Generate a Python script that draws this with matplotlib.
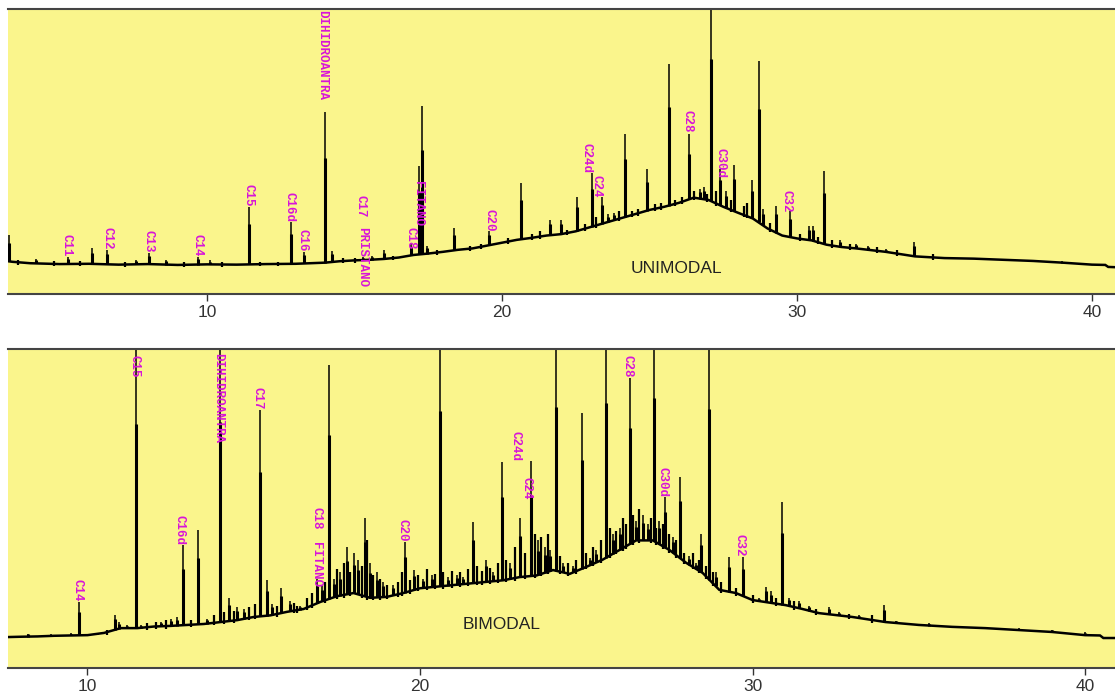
import numpy as np
import matplotlib.pyplot as plt

# ---- top trace (UNIMODAL) ----
# baseline (x in minutes, y in % of panel height)
uni_base_x = [3.25, 3.4, 4.0, 5.0, 6.0, 7.0, 8.0, 9.0, 10.0, 11.0, 12.0, 13.0, 14.0, 14.5,
              15.0, 15.5, 16.0, 16.5, 17.0, 17.5, 18.0, 18.5, 19.0, 19.5, 20.0, 20.5, 21.0,
              21.5, 22.0, 22.5, 23.0, 23.5, 24.0, 24.5, 25.0, 25.5, 26.0, 26.5, 27.0, 27.5,
              28.0, 28.5, 29.0, 29.5, 30.0, 30.5, 31.0, 31.5, 32.0, 33.0, 34.0, 35.0, 36.0,
              37.0, 38.0, 39.0, 40.0, 40.45, 40.55, 40.8]
uni_base_y = [11.5, 11.3, 10.8, 10.5, 10.6, 10.3, 10.5, 10.2, 10.4, 10.3, 10.5, 10.6, 11.0, 11.5,
              11.8, 12.0, 12.3, 12.8, 13.7, 14.2, 14.8, 15.5, 16.0, 17.0, 18.0, 19.0, 19.7,
              20.5, 21.0, 22.0, 23.5, 25.0, 26.5, 28.0, 29.5, 30.6, 32.0, 33.8, 33.0, 30.6,
              28.5, 26.5, 23.0, 20.5, 19.5, 18.8, 17.3, 16.5, 16.0, 14.8, 13.2, 12.6, 12.4,
              12.0, 11.6, 11.0, 10.3, 10.2, 9.5, 9.4]
uni_peak_x = [3.3, 4.2, 5.3, 6.1, 6.6, 7.6, 8.03, 8.6, 9.68, 10.1, 11.43, 12.85, 13.3, 14.0,
              14.25, 15.27, 15.6, 16.0, 16.9, 17.17, 17.29, 17.45, 18.38, 19.57, 20.64, 21.63,
              22.0, 22.55, 23.05, 23.38, 23.6, 23.8, 24.17, 24.92, 25.66, 26.34, 26.7, 26.85,
              27.07, 27.4, 27.6, 27.85, 28.47, 28.7, 28.85, 29.3, 29.76, 30.4, 30.55, 30.92,
              31.46, 32.0, 32.4, 33.0, 33.97, 35.5, 36.2, 37.0, 38.0, 39.0]
uni_peak_y = [20.8, 12.3, 13.0, 16.0, 15.5, 12.0, 14.4, 12.0, 13.0, 11.8, 30.6, 25.4, 14.8, 63.7,
              15.0, 13.0, 13.5, 15.5, 18.0, 45.0, 66.0, 17.0, 23.0, 22.0, 39.0, 26.0,
              26.0, 34.0, 42.5, 34.0, 28.0, 28.5, 56.0, 43.7, 80.6, 56.0, 37.0, 37.5,
              104.0, 43.7, 36.0, 45.4, 40.0, 81.8, 30.0, 30.8, 29.0, 24.0, 24.0, 43.0,
              19.0, 17.5, 17.0, 15.8, 18.4, 12.8, 12.5, 12.3, 11.8, 11.5]
# small bumps along the trace
uni_small_x = [3.6, 4.8, 5.7, 7.2, 9.2, 10.5, 11.8, 12.4, 14.6, 15.0, 16.3, 17.8, 18.9, 19.3,
               20.2, 21.0, 21.3, 22.2, 22.8, 23.2, 23.95, 24.4, 24.6, 25.2, 25.4, 25.85, 26.1,
               26.5, 26.95, 27.25, 27.75, 28.2, 28.3, 29.1, 30.1, 30.7, 31.2, 31.8, 32.7, 33.4,
               34.6]
uni_small_y = [12.0, 11.5, 11.5, 11.3, 11.2, 11.3, 11.2, 11.2, 12.5, 12.8, 13.2, 15.5, 17.0, 17.5,
               19.5, 21.0, 22.0, 22.5, 24.5, 27.0, 29.0, 29.0, 30.0, 31.5, 32.0, 33.0, 34.0,
               36.0, 35.0, 36.0, 33.0, 31.0, 32.0, 25.0, 21.0, 20.0, 19.0, 17.5, 16.5, 15.5,
               14.0]
uni_labels = ["C11", "C12", "C13", "C14", "C15", "C16d", "C16", "DIHIDROANTRA", "C17",
              "PRISTANO", "C18", "FITANO", "C20", "C24d", "C24", "C28", "C30d", "C32"]
uni_label_x = [5.22, 6.61, 8.03, 9.66, 11.42, 12.78, 13.22, 13.9, 15.19, 15.25, 16.88, 17.15,
               19.59, 22.85, 23.2, 26.27, 27.4, 29.63]
uni_label_y = [13.0, 15.5, 14.4, 13.0, 30.6, 25.4, 14.8, 68.0, 27.0, 2.5, 15.5, 24.0,
               21.8, 42.6, 33.8, 56.7, 40.8, 28.5]

# ---- bottom trace (BIMODAL) ----
bi_base_x = [7.61, 8.0, 8.5, 9.0, 9.5, 10.0, 10.5, 11.0, 11.5, 12.0, 12.5, 13.0, 13.5, 14.0,
             14.5, 15.0, 15.5, 16.0, 16.5, 17.0, 17.5, 18.0, 18.5, 19.0, 19.5, 20.0, 20.5,
             21.0, 21.5, 22.0, 22.5, 23.0, 23.5, 24.0, 24.5, 25.0, 25.5, 26.0, 26.5, 27.0,
             27.5, 28.0, 28.5, 29.0, 29.5, 30.0, 30.5, 31.0, 31.5, 32.0, 33.0, 34.0, 35.0,
             36.0, 37.0, 38.0, 39.0, 40.0, 40.45, 40.55, 40.9]
bi_base_y = [9.7, 9.8, 9.9, 10.1, 10.2, 10.3, 11.0, 12.5, 12.5, 13.0, 13.2, 13.5, 13.8, 14.4,
             15.0, 16.0, 16.5, 17.6, 18.5, 20.7, 22.5, 23.5, 22.0, 22.3, 23.5, 25.0, 25.5,
             26.0, 26.5, 27.0, 27.5, 28.5, 29.0, 30.7, 29.5, 31.7, 34.0, 37.0, 40.0, 40.0,
             37.0, 33.0, 29.8, 24.5, 23.5, 21.3, 20.5, 19.7, 18.5, 17.2, 16.0, 14.4, 13.5,
             12.9, 12.5, 11.9, 11.3, 10.3, 10.2, 9.4, 9.4]
bi_peak_x = [8.2, 8.9, 9.5, 9.74, 10.3, 10.84, 10.95, 11.2, 11.47, 11.6, 12.2, 12.5, 12.7, 12.88,
             13.32, 13.6, 14.0, 14.26, 14.5, 14.7, 15.2, 15.4, 15.55, 15.81, 16.1, 16.4, 16.9,
             17.05, 17.26, 17.4, 17.6, 17.8, 18.0, 18.15, 18.34, 18.5, 18.7, 18.9, 19.2, 19.55,
             19.82, 20.1, 20.35, 20.59, 20.85, 21.1, 21.3, 21.58, 21.97, 22.2, 22.48, 22.7,
             23.0, 23.35, 23.55, 23.76, 23.9, 24.1, 24.3, 24.6, 24.88, 25.1, 25.3, 25.6, 25.8,
             26.0, 26.3, 26.5, 26.7, 26.85, 27.05, 27.2, 27.38, 27.6, 27.83, 28.1, 28.3, 28.46,
             28.7, 28.9, 29.3, 29.71, 30.2, 30.39, 30.55, 30.9, 31.1, 31.4, 31.7, 32.29, 32.6,
             33.2, 33.96, 34.3, 35.3, 36.2, 37.0, 38.0, 39.0, 40.0]
bi_peak_y = [10.8, 10.6, 11.0, 20.8, 11.0, 16.6, 14.5, 13.5, 104.0, 13.5, 14.5, 15.5, 16.0, 38.6,
             43.3, 15.5, 104.0, 22.0, 19.0, 18.5, 81.0, 27.6, 20.0, 25.0, 21.0, 19.5, 28.0,
             26.0, 95.0, 28.0, 30.0, 38.0, 36.0, 34.0, 47.0, 33.0, 30.0, 27.0, 26.0, 39.5,
             30.7, 28.0, 29.0, 104.0, 28.5, 29.0, 28.5, 45.8, 33.9, 30.0, 64.6, 33.0,
             47.0, 65.0, 40.0, 38.0, 37.0, 104.0, 33.0, 32.0, 80.0, 34.5, 37.0, 104.0, 42.0,
             44.0, 91.0, 46.0, 48.0, 45.0, 104.0, 46.0, 53.6, 41.0, 60.0, 35.0, 33.0, 42.0,
             104.0, 30.0, 34.8, 34.8, 22.0, 25.4, 24.0, 52.0, 22.0, 21.0, 19.5, 19.0, 17.5,
             16.5, 19.7, 14.8, 14.0, 13.3, 13.0, 12.5, 12.0, 11.2]
bi_small_x = [10.6, 11.8, 12.05, 12.35, 13.1, 13.8, 14.1, 14.4, 14.85, 15.05, 15.7, 16.2, 16.3,
              16.6, 16.75, 17.15, 17.5, 17.7, 17.9, 18.25, 18.42, 18.6, 18.8, 19.0, 19.35,
              19.45, 19.7, 19.95, 20.2, 20.45, 20.7, 20.95, 21.2, 21.45, 21.7, 21.85, 22.1,
              22.35, 22.6, 22.85, 23.15, 23.45, 23.65, 23.85, 24.2, 24.45, 24.7, 25.0, 25.2,
              25.45, 25.7, 25.9, 26.1, 26.2, 26.4, 26.6, 26.95, 27.1, 27.3, 27.5, 27.7, 27.95,
              28.2, 28.4, 28.6, 28.8, 29.05, 29.5, 30.0, 30.7, 31.25, 31.9, 32.9, 33.6]
bi_small_y = [12.0, 14.0, 14.3, 15.0, 15.0, 16.5, 17.5, 18.0, 19.0, 20.0, 19.5, 20.5, 19.5,
              22.0, 23.5, 27.0, 31.0, 33.0, 30.0, 32.0, 40.0, 29.0, 28.0, 26.0, 27.0,
              30.0, 27.5, 29.0, 31.0, 29.5, 30.0, 30.5, 30.0, 31.0, 32.0, 30.5, 31.5,
              33.0, 34.0, 38.0, 36.0, 42.0, 41.0, 42.0, 35.0, 33.0, 34.0, 36.0, 38.0,
              40.0, 44.0, 43.0, 47.0, 45.0, 48.0, 50.0, 47.0, 44.0, 45.0, 42.0, 40.0, 36.0,
              36.0, 34.0, 32.0, 30.0, 27.0, 25.0, 23.0, 22.0, 21.0, 18.5, 17.0, 16.5]
bi_labels = ["C14", "C15", "C16d", "DIHIDROANTRA", "C17", "FITANO", "C18", "C20",
             "C24d", "C24", "C28", "C30d", "C32"]
bi_label_x = [9.7, 11.4, 12.78, 13.92, 15.1, 16.87, 16.9, 19.47, 22.86, 23.2, 26.24, 27.3, 29.6]
bi_label_y = [20.8, 91.0, 38.6, 70.5, 81.0, 25.4, 43.3, 39.5, 65.0, 52.7, 91.0, 53.6, 34.8]

YELLOW = '#faf58c'
MAGENTA = '#d814d8'


def draw_trace(ax, base_x, base_y, peak_x, peak_y, small_x, small_y, labels, label_x, label_y,
               xlim, name, name_x, name_y):
    ax.set_facecolor(YELLOW)
    ax.plot(base_x, base_y, color='black', lw=1.8, solid_joinstyle='miter')
    # peak stems start on the baseline
    peak_x = np.asarray(peak_x)
    peak_y = np.asarray(peak_y)
    bottom = np.interp(peak_x, base_x, base_y)
    ax.vlines(peak_x, bottom, peak_y, color='black', lw=1.1)
    ax.vlines(peak_x, bottom, bottom + 0.7 * (peak_y - bottom), color='black', lw=2.2)
    sb = np.interp(small_x, base_x, base_y)
    ax.vlines(small_x, sb - 0.8, small_y, color='black', lw=1.6)
    for t, lx, ly in zip(labels, label_x, label_y):
        ax.text(lx, ly, t, rotation=270, ha='center', va='bottom', color=MAGENTA,
                family='Liberation Mono', fontsize=9, fontweight='bold', clip_on=True)
    ax.text(name_x, name_y, name, ha='center', va='center', color='#222222',
            family='Liberation Sans', fontsize=12.5)
    ax.set_xlim(*xlim)
    ax.set_ylim(0, 100)
    ax.set_yticks([])
    ax.set_xticks([10, 20, 30, 40])
    ax.tick_params(axis='x', direction='out', length=5, width=1, colors='#333333',
                   labelsize=12.5, pad=3)
    for lab in ax.get_xticklabels():
        lab.set_family('Liberation Sans')
    for s in ('left', 'right'):
        ax.spines[s].set_visible(False)
    for s in ('top', 'bottom'):
        ax.spines[s].set_color('#444444')
        ax.spines[s].set_linewidth(1.5)


fig = plt.figure(figsize=(11.15, 7.0), dpi=100)
ax1 = fig.add_axes([8 / 1115, 406 / 700, 1107 / 1115, 285 / 700])
ax2 = fig.add_axes([8 / 1115, 32 / 700, 1107 / 1115, 319 / 700])

draw_trace(ax1, uni_base_x, uni_base_y, uni_peak_x, uni_peak_y, uni_small_x, uni_small_y,
           uni_labels, uni_label_x, uni_label_y, (3.25, 40.78), 'UNIMODAL', 25.9, 9.0)
draw_trace(ax2, bi_base_x, bi_base_y, bi_peak_x, bi_peak_y, bi_small_x, bi_small_y,
           bi_labels, bi_label_x, bi_label_y, (7.61, 40.9), 'BIMODAL', 22.44, 13.5)

fig.savefig('out.png', dpi=100, facecolor='white')
